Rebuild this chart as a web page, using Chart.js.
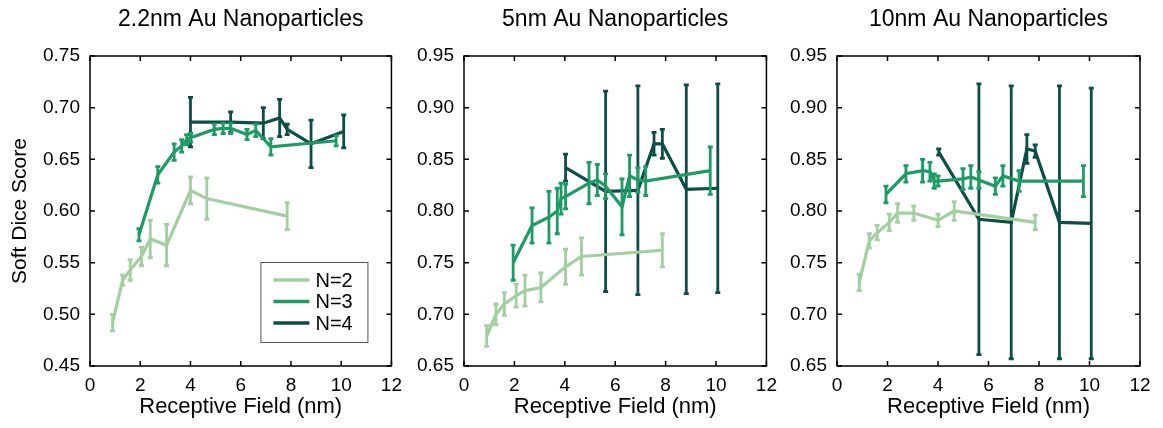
<!DOCTYPE html>
<html>
<head>
<meta charset="utf-8">
<script src="https://cdn.jsdelivr.net/npm/chart.js@4.4.1/dist/chart.umd.min.js"></script>
<style>
  html, body { margin: 0; padding: 0; background: #fff; }
  body { width: 1163px; height: 428px; position: relative; overflow: hidden; }
  canvas { position: absolute; top: 0; }
</style>
</head>
<body>
<canvas id="p22" width="410" height="428" style="left:0px"></canvas>
<canvas id="p5" width="385" height="428" style="left:400px"></canvas>
<canvas id="p10" width="388" height="428" style="left:775px"></canvas>
<script>
// series labels / colours
const seriesNames = ["N=2", "N=3", "N=4"];
const seriesColors = ["#a2cf9f", "#1e9b64", "#0b4e45"];

// 2.2nm panel
const rf22_n2 = [0.9, 1.3, 1.6, 2.05, 2.4, 3.05, 4.0, 4.65, 7.85];
const dice22_n2 = [0.492, 0.533, 0.543, 0.556, 0.573, 0.567, 0.620, 0.612, 0.595];
const err22_n2 = [0.008, 0.005, 0.010, 0.009, 0.018, 0.020, 0.013, 0.020, 0.013];

const rf22_n3 = [1.95, 2.7, 3.35, 3.65, 3.85, 4.0, 4.95, 5.3, 5.6, 6.25, 6.6, 7.2, 9.8];
const dice22_n3 = [0.577, 0.635, 0.657, 0.663, 0.669, 0.671, 0.679, 0.680, 0.680, 0.674, 0.678, 0.662, 0.668];
const err22_n3 = [0.006, 0.008, 0.008, 0.006, 0.005, 0.004, 0.005, 0.005, 0.005, 0.005, 0.006, 0.008, 0.005];

const rf22_n4 = [4.0, 5.6, 6.9, 7.55, 7.85, 8.8, 10.1];
const dice22_n4 = [0.686, 0.686, 0.685, 0.690, 0.679, 0.665, 0.677];
const err22_n4 = [0.024, 0.010, 0.015, 0.018, 0.005, 0.023, 0.016];

// 5nm panel
const rf5_n2 = [0.9, 1.27, 1.6, 2.07, 2.42, 3.05, 4.03, 4.66, 7.87];
const dice5_n2 = [0.679, 0.700, 0.710, 0.718, 0.723, 0.726, 0.746, 0.756, 0.762];
const err5_n2 = [0.010, 0.010, 0.011, 0.011, 0.015, 0.014, 0.017, 0.018, 0.016];

const rf5_n3 = [1.95, 2.7, 3.37, 3.7, 3.85, 4.03, 4.96, 5.29, 5.62, 6.27, 6.57, 6.9, 7.21, 9.77];
const dice5_n3 = [0.750, 0.786, 0.794, 0.800, 0.812, 0.814, 0.827, 0.830, 0.824, 0.804, 0.834, 0.830, 0.829, 0.839];
const err5_n3 = [0.017, 0.017, 0.025, 0.022, 0.015, 0.012, 0.020, 0.015, 0.012, 0.027, 0.020, 0.012, 0.014, 0.023];

const rf5_n4 = [4.03, 5.62, 6.9, 7.54, 7.87, 8.82, 10.07];
const dice5_n4 = [0.842, 0.819, 0.820, 0.865, 0.865, 0.821, 0.822];
const err5_n4 = [0.013, 0.097, 0.101, 0.011, 0.014, 0.101, 0.101];

// 10nm panel
const rf10_n2 = [0.88, 1.28, 1.59, 2.07, 2.4, 3.04, 4.0, 4.64, 7.85];
const dice10_n2 = [0.731, 0.771, 0.779, 0.789, 0.798, 0.798, 0.791, 0.800, 0.789];
const err10_n2 = [0.008, 0.007, 0.007, 0.008, 0.009, 0.007, 0.006, 0.009, 0.007];

const rf10_n3 = [1.94, 2.73, 3.39, 3.68, 3.85, 4.0, 4.99, 5.3, 5.62, 6.27, 6.57, 7.21, 9.76];
const dice10_n3 = [0.816, 0.836, 0.839, 0.838, 0.829, 0.829, 0.831, 0.833, 0.830, 0.824, 0.834, 0.829, 0.829];
const err10_n3 = [0.008, 0.008, 0.011, 0.009, 0.007, 0.005, 0.010, 0.011, 0.008, 0.008, 0.010, 0.010, 0.015];

const rf10_n4 = [4.03, 5.62, 6.9, 7.52, 7.85, 8.81, 10.07];
const dice10_n4 = [0.857, 0.792, 0.789, 0.860, 0.858, 0.789, 0.788];
const err10_n4 = [0.003, 0.131, 0.132, 0.014, 0.006, 0.132, 0.131];

const xTicks = [0, 2, 4, 6, 8, 10, 12];

const FONT = "'Liberation Sans', Arial, Helvetica, sans-serif";

// vertical error bars with small caps, drawn right after each line
const errorBars = {
  id: "errorBars",
  afterDatasetDraw(chart, args) {
    const ds = chart.data.datasets[args.index];
    if (!ds.errors) return;
    const { ctx, chartArea: ca } = chart;
    const x = chart.scales.x, y = chart.scales.y;
    ctx.save();
    ctx.beginPath();
    ctx.rect(ca.left, ca.top, ca.width, ca.height);
    ctx.clip();
    ctx.strokeStyle = ds.borderColor;
    ctx.lineWidth = 2.8;
    ds.data.forEach((p, i) => {
      const e = ds.errors[i];
      const px = x.getPixelForValue(p.x);
      const t = y.getPixelForValue(p.y + e);
      const b = y.getPixelForValue(p.y - e);
      ctx.beginPath();
      ctx.moveTo(px, t); ctx.lineTo(px, b);
      ctx.moveTo(px - 2.5, t); ctx.lineTo(px + 2.5, t);
      ctx.moveTo(px - 2.5, b); ctx.lineTo(px + 2.5, b);
      ctx.stroke();
    });
    ctx.restore();
  }
};

// matlab style box with inward ticks on all sides, title centred on the plot
const boxTicks = {
  id: "boxTicks",
  afterDraw(chart) {
    const { ctx, chartArea: ca } = chart;
    const x = chart.scales.x, y = chart.scales.y;
    ctx.save();
    ctx.strokeStyle = "#000";
    ctx.lineWidth = 1.5;
    ctx.strokeRect(ca.left, ca.top, ca.width, ca.height);
    ctx.beginPath();
    x.ticks.forEach(t => {
      const px = x.getPixelForValue(t.value);
      ctx.moveTo(px, ca.bottom); ctx.lineTo(px, ca.bottom - 5);
      ctx.moveTo(px, ca.top); ctx.lineTo(px, ca.top + 5);
    });
    y.ticks.forEach(t => {
      const py = y.getPixelForValue(t.value);
      ctx.moveTo(ca.left, py); ctx.lineTo(ca.left + 5, py);
      ctx.moveTo(ca.right, py); ctx.lineTo(ca.right - 5, py);
    });
    ctx.stroke();
    const title = chart.options.plugins.boxTicks.title;
    ctx.fillStyle = "#000";
    ctx.font = "23px " + FONT;
    ctx.textAlign = "center";
    ctx.textBaseline = "middle";
    ctx.fillText(title, (ca.left + ca.right) / 2, ca.top - 36);
    ctx.restore();
  }
};

// boxed legend in lower right of plot (first panel only)
const boxLegend = {
  id: "boxLegend",
  afterDraw(chart) {
    const { ctx, chartArea: ca } = chart;
    const bx = ca.right - 131, by = ca.bottom - 104;
    ctx.save();
    ctx.fillStyle = "#fff";
    ctx.fillRect(bx, by, 107, 80);
    ctx.strokeStyle = "#555";
    ctx.lineWidth = 1;
    ctx.strokeRect(bx + 0.5, by + 0.5, 107, 80);
    ctx.font = "20px " + FONT;
    ctx.textBaseline = "middle";
    chart.data.datasets.forEach((ds, i) => {
      const ly = by + 18 + i * 21.5;
      ctx.strokeStyle = ds.borderColor;
      ctx.lineWidth = 3.5;
      ctx.beginPath();
      ctx.moveTo(bx + 13, ly); ctx.lineTo(bx + 49, ly);
      ctx.stroke();
      ctx.fillStyle = "#000";
      ctx.fillText(ds.label, bx + 55, ly + 1);
    });
    ctx.restore();
  }
};

function points(xs, ys) {
  return xs.map((v, i) => ({ x: v, y: ys[i] }));
}

function makePanel(id, title, xs, ys, errs, yMin, yMax, yWidth, rightPad, withYTitle, extra) {
  const datasets = seriesNames.map((name, k) => ({
    label: name,
    data: points(xs[k], ys[k]),
    errors: errs[k],
    borderColor: seriesColors[k],
    backgroundColor: seriesColors[k],
    borderWidth: 3.2,
    pointRadius: 0,
    tension: 0,
    showLine: true
  }));
  return new Chart(document.getElementById(id), {
    type: "line",
    data: { datasets },
    plugins: [errorBars, boxTicks].concat(extra),
    options: {
      responsive: false,
      animation: false,
      devicePixelRatio: 1,
      layout: { padding: { left: 0, right: rightPad, top: 56, bottom: 0 } },
      plugins: {
        legend: { display: false },
        tooltip: { enabled: false },
        title: { display: false },
        boxTicks: { title: title }
      },
      scales: {
        x: {
          type: "linear",
          min: 0, max: 12,
          afterBuildTicks: s => { s.ticks = xTicks.map(v => ({ value: v })); },
          afterFit: s => { s.height = 62; },
          grid: { display: false, drawTicks: false },
          border: { display: false },
          ticks: { color: "#000", padding: 8, maxRotation: 0, font: { family: FONT, size: 19 } },
          title: {
            display: true,
            text: "Receptive Field (nm)",
            color: "#000",
            font: { family: FONT, size: 22 },
            padding: { top: 0, bottom: 8 }
          }
        },
        y: {
          min: yMin, max: yMax,
          afterFit: s => { s.width = yWidth; },
          grid: { display: false, drawTicks: false },
          border: { display: false },
          ticks: {
            color: "#000",
            padding: 10,
            stepSize: 0.05,
            font: { family: FONT, size: 19 },
            callback: v => v.toFixed(2)
          },
          title: {
            display: withYTitle,
            text: "Soft Dice Score",
            color: "#000",
            font: { family: FONT, size: 21 },
            padding: { top: 8, bottom: 0 }
          }
        }
      }
    }
  });
}

makePanel("p22", "2.2nm Au Nanoparticles",
  [rf22_n2, rf22_n3, rf22_n4], [dice22_n2, dice22_n3, dice22_n4], [err22_n2, err22_n3, err22_n4],
  0.45, 0.75, 90, 17, true, [boxLegend]);

makePanel("p5", "5nm Au Nanoparticles",
  [rf5_n2, rf5_n3, rf5_n4], [dice5_n2, dice5_n3, dice5_n4], [err5_n2, err5_n3, err5_n4],
  0.65, 0.95, 64, 18, false, []);

makePanel("p10", "10nm Au Nanoparticles",
  [rf10_n2, rf10_n3, rf10_n4], [dice10_n2, dice10_n3, dice10_n4], [err10_n2, err10_n3, err10_n4],
  0.65, 0.95, 62, 23, false, []);
</script>
</body>
</html>
